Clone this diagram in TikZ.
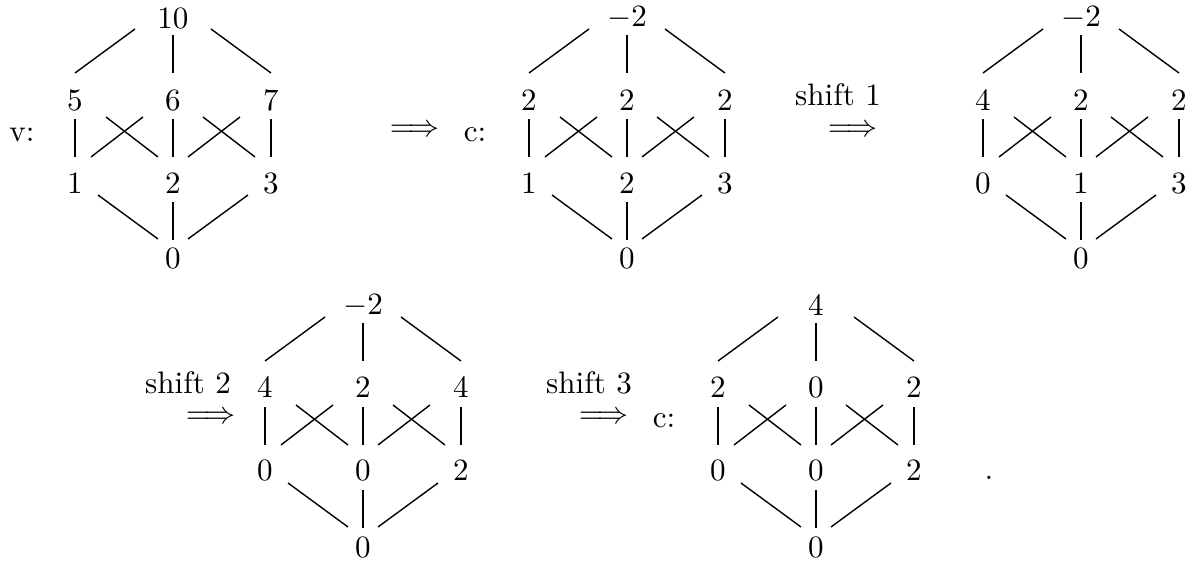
\documentclass[tikz,border=0pt]{standalone}
\usepackage{amsmath}
\newcommand\cubenodes[9]{%
  \node[lab] (#1T) at (0,18) {$#2$};
  \node[lab] (#1A) at (-98,100) {$#3$};
  \node[lab] (#1B) at (0,100) {$#4$};
  \node[lab] (#1C) at (98,100) {$#5$};
  \node[lab] (#1D) at (-98,183) {$#6$};
  \node[lab] (#1E) at (0,183) {$#7$};
  \node[lab] (#1F) at (98,183) {$#8$};
  \node[lab] (#1Z) at (0,259) {$#9$};}
\newcommand\cubeedges[1]{%
  \draw[edge] ([shift={(0,-27)}]#1A.center) -- ([shift={(-38,11)}]#1T.center);
  \draw[edge] ([shift={(0,-27)}]#1B.center) -- ([shift={(0,17)}]#1T.center);
  \draw[edge] ([shift={(0,-27)}]#1C.center) -- ([shift={(38,11)}]#1T.center);
  \draw[edge] ([shift={(0,19)}]#1A.center) -- ([shift={(0,-26)}]#1D.center);
  \draw[edge] ([shift={(0,19)}]#1B.center) -- ([shift={(0,-26)}]#1E.center);
  \draw[edge] ([shift={(0,19)}]#1C.center) -- ([shift={(0,-26)}]#1F.center);
  \draw[edge] ([shift={(16,-26)}]#1D.center) -- ([shift={(-30,17)}]#1B.center);
  \draw[edge] ([shift={(31,17)}]#1A.center) -- ([shift={(-15,-26)}]#1E.center);
  \draw[edge] ([shift={(-16,-26)}]#1F.center) -- ([shift={(30,17)}]#1B.center);
  \draw[edge] ([shift={(-31,17)}]#1C.center) -- ([shift={(15,-26)}]#1E.center);
  \draw[edge] ([shift={(23,12)}]#1D.center) -- ([shift={(-15,-20)}]#1Z.center);
  \draw[edge] ([shift={(0,19)}]#1E.center) -- ([shift={(0,-19)}]#1Z.center);
  \draw[edge] ([shift={(-23,12)}]#1F.center) -- ([shift={(15,-20)}]#1Z.center);}
\begin{document}
\begin{tikzpicture}[x=0.322pt,y=-0.322pt,
  lab/.style={inner sep=0pt},
  edge/.style={line width=0.45pt}]
\useasboundingbox (0,0) rectangle (1202,563);
% diagram 1
\begin{scope}[shift={(173,0)}]
  \cubenodes{a}{10}{5}{6}{7}{1}{2}{3}{0}
\end{scope}
\begin{scope}[shift={(627,0)}]
  \cubenodes{b}{-2}{2}{2}{2}{1}{2}{3}{0}
\end{scope}
\begin{scope}[shift={(1081,0)}]
  \cubenodes{c}{-2}{4}{2}{2}{0}{1}{3}{0}
\end{scope}
\begin{scope}[shift={(363,288)}]
  \cubenodes{d}{-2}{4}{2}{4}{0}{0}{2}{0}
\end{scope}
\begin{scope}[shift={(816,288)}]
  \cubenodes{e}{4}{2}{0}{2}{0}{0}{2}{0}
\end{scope}
\cubeedges{a}
\cubeedges{b}
\cubeedges{c}
\cubeedges{d}
\cubeedges{e}
% labels
\node[lab] (vlab) at (22,135) {v:};
\node[lab] (ar1) at (415,131) {$\Longrightarrow$};
\node[lab] (clab1) at (475,135) {c:};
\node[lab] (sh1) at (838,95) {shift 1};
\node[lab] (ar2) at (853,131) {$\Longrightarrow$};
\node[lab] (sh2) at (188,383) {shift 2};
\node[lab] (ar3) at (211,418) {$\Longrightarrow$};
\node[lab] (sh3) at (589,383) {shift 3};
\node[lab] (ar4) at (604,418) {$\Longrightarrow$};
\node[lab] (clab2) at (664,421) {c:};
\node[lab,anchor=base] (dot) at (989,480) {.};
\end{tikzpicture}
\end{document}
